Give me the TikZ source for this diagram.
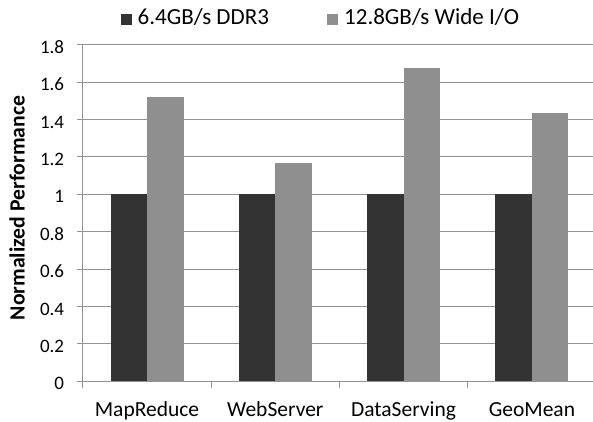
\documentclass[tikz,border=0pt]{standalone}
\usepackage{fontspec}
\setmainfont{Carlito}
\definecolor{darkbar}{HTML}{333333}
\definecolor{lightbar}{HTML}{8F8F8F}
\definecolor{gridc}{HTML}{939393}
\begin{document}
\begin{tikzpicture}[x=1pt,y=1pt,
  gridline/.style={draw=gridc,line width=1pt},
  axisline/.style={draw=gridc,line width=1pt},
  darkbarst/.style={fill=darkbar},
  lightbarst/.style={fill=lightbar},
  ticklab/.style={anchor=east,inner sep=0pt,font=\fontsize{19}{23}\selectfont},
  catlab/.style={anchor=base,inner sep=0pt,font=\fontsize{21.5}{25}\selectfont},
  leglab/.style={anchor=base west,inner sep=0pt,font=\fontsize{23}{27}\selectfont},
  titlelab/.style={rotate=90,inner sep=0pt,font=\fontsize{21.7}{25}\selectfont\bfseries}]
\useasboundingbox (0,0) rectangle (593,421);
\fill[white] (0,0) rectangle (593,421);
% gridlines and y ticks
\foreach \v/\t in {0/0,0.2/0.2,0.4/0.4,0.6/0.6,0.8/0.8,1/1,1.2/1.2,1.4/1.4,1.6/1.6,1.8/1.8}{
  \pgfmathsetmacro{\yy}{39.7+187*\v}
  \draw[gridline] (82.8,\yy) -- (593,\yy);
  \draw[axisline] (77,\yy) -- (82.8,\yy);
  \node[ticklab] at (64.3,\yy-2.5) {\t};
}
% bars
\foreach \k/\val/\nm in {0/1.52/MapReduce,1/1.165/WebServer,2/1.675/DataServing,3/1.435/GeoMean}{
  \pgfmathsetmacro{\c}{147+128.3*\k}
  \pgfmathsetmacro{\one}{39.7+187}
  \pgfmathsetmacro{\top}{39.7+187*\val}
  \fill[darkbarst] (\c-36.5,39.7) rectangle (\c,\one);
  \fill[lightbarst] (\c,39.7) rectangle (\c+36.5,\top);
  \node[catlab] (cat\k) at (\c,4.3) {\nm};
}
% axes
\draw[axisline] (82.8,39.7) -- (82.8,376.3);
\draw[axisline] (82.8,39.7) -- (593,39.7);
\foreach \k in {0,1,2,3}{
  \pgfmathsetmacro{\xx}{82.8+128.3*\k}
  \draw[axisline] (\xx,39.7) -- (\xx,33.2);
}
% y title
\node[titlelab] (ytitle) at (17,213) {Normalized Performance};
% legend
\fill[darkbar] (121,396) rectangle (132,407);
\node[leglab] (leg1) at (137.5,396) {6.4GB/s DDR3};
\fill[lightbar] (327,396) rectangle (338,407);
\node[leglab] (leg2) at (344,396) {12.8GB/s Wide I/O};
\end{tikzpicture}
\end{document}
